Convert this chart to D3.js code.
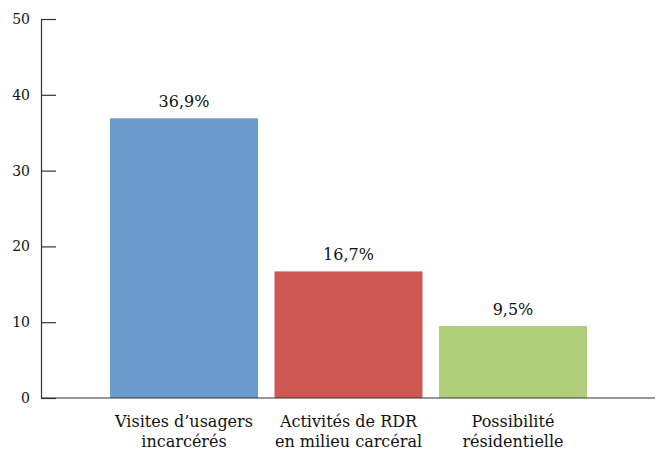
<!DOCTYPE html>
<html><head><meta charset="utf-8">
<script src="https://cdn.jsdelivr.net/npm/d3@7"></script>
<style>
body{margin:0;background:#fff;}
</style></head>
<body><svg id="c" width="660" height="452"></svg>
<script>
const categories = [["Visites d’usagers","incarcérés"],["Activités de RDR","en milieu carcéral"],["Possibilité","résidentielle"]];
const values = [36.9, 16.7, 9.5];
const valueLabels = ["36,9%","16,7%","9,5%"];
const colors = ["#6b9bcc","#cf5854","#b0ce79"];
const yTicks = [0,10,20,30,40,50];

const FONT = "DejaVu Serif";
const svg = d3.select("#c");
const axisX = 41, plotRight = 655, y0 = 398, yTop = 19;
const x = d3.scaleBand().domain(d3.range(values.length)).range([110,587]).paddingInner(0.1).paddingOuter(0);
const y = d3.scaleLinear().domain([0,50]).range([y0,yTop]);

const yAxis = d3.axisLeft(y).tickValues(yTicks).tickSizeInner(-15).tickSizeOuter(0).tickPadding(11);
const gy = svg.append("g").attr("transform",`translate(${axisX},0)`).call(yAxis);
gy.attr("font-family",FONT).attr("font-size",14);
gy.selectAll("path,line").attr("stroke","#333").attr("stroke-width",1.2);
gy.selectAll("text").attr("fill","#111");

svg.append("g").selectAll("rect").data(values).join("rect")
  .attr("x",(d,i)=>x(i)).attr("width",x.bandwidth())
  .attr("y",d=>y(d)).attr("height",d=>y0-y(d))
  .attr("fill",(d,i)=>colors[i]);

svg.append("line").attr("x1",axisX).attr("x2",plotRight).attr("y1",y0).attr("y2",y0).attr("stroke","#333").attr("stroke-width",1.2);

svg.append("g").attr("font-family",FONT).attr("font-size",16).attr("fill","#111")
  .selectAll("text").data(values).join("text")
  .attr("x",(d,i)=>x(i)+x.bandwidth()/2).attr("y",d=>y(d)-11)
  .attr("text-anchor","middle")
  .text((d,i)=>valueLabels[i]);

const cl = svg.append("g").attr("font-family",FONT).attr("font-size",16).attr("fill","#111")
  .selectAll("text").data(categories).join("text")
  .attr("x",(d,i)=>x(i)+x.bandwidth()/2).attr("y",y0+29)
  .attr("text-anchor","middle");
cl.selectAll("tspan").data(d=>d).join("tspan")
  .attr("x",function(){return this.parentNode.getAttribute("x");})
  .attr("dy",(d,j)=>j===0?0:20).text(d=>d);
</script></body></html>
